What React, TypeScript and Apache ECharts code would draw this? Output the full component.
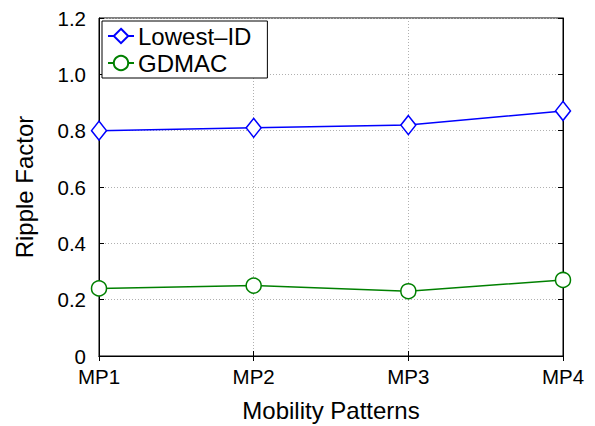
import React, { useEffect, useRef } from "react";
import * as echarts from "echarts";

const categories = ["MP1", "MP2", "MP3", "MP4"];
const lowestId = [0.8, 0.81, 0.82, 0.87];
const gdmac = [0.24, 0.25, 0.23, 0.27];
const yTicks = [0, 0.2, 0.4, 0.6, 0.8, 1.0, 1.2];

const FONT = "Liberation Sans, Arial, Helvetica, sans-serif";

export default function App() {
  const ref = useRef<HTMLDivElement>(null);
  useEffect(() => {
    if (!ref.current) return;
    const chart = echarts.init(ref.current, undefined, { renderer: "svg" });
    const grid = { left: 99, right: 32, top: 18, bottom: 70 };
    const split = { show: true, lineStyle: { color: "#b0b0b0", type: [1, 2] as any, width: 1 } };
    chart.setOption({
      animation: false,
      backgroundColor: "#fff",
      textStyle: { fontFamily: FONT },
      grid: {
        ...grid,
        show: true,
        borderColor: "#000",
        borderWidth: 1,
        backgroundColor: "transparent",
        containLabel: false,
        outerBoundsMode: "none",
      },
      legend: {
        orient: "vertical",
        left: 102,
        top: 21,
        padding: [3, 16, 3, 5],
        itemGap: 3,
        itemWidth: 26,
        itemHeight: 18,
        backgroundColor: "#fff",
        borderColor: "#000",
        borderWidth: 1,
        borderRadius: 0,
        textStyle: { fontSize: 24, color: "#000", fontFamily: FONT, padding: [0, 0, 0, -1] },
        data: ["Lowest\u2013ID", "GDMAC"],
      },
      xAxis: [
        {
          type: "category",
          data: categories,
          boundaryGap: false,
          axisLine: { show: true, lineStyle: { color: "#000", width: 1 } },
          axisTick: { show: true, inside: true, length: 5, lineStyle: { color: "#000" } },
          axisLabel: { fontSize: 20.5, color: "#000", margin: 10, fontFamily: FONT },
          splitLine: split,
          name: "Mobility Patterns",
          nameLocation: "middle",
          nameGap: 42,
          nameTextStyle: { fontSize: 24, color: "#000", fontFamily: FONT },
        },
        {
          type: "category",
          data: categories,
          boundaryGap: false,
          position: "top",
          axisLine: { show: true, lineStyle: { color: "#000", width: 1 } },
          axisTick: { show: true, inside: true, length: 5, lineStyle: { color: "#000" } },
          axisLabel: { show: false },
          splitLine: { show: false },
        },
      ],
      yAxis: [
        {
          type: "value",
          min: 0,
          max: 1.2,
          interval: 0.2,
          axisLine: { show: true, lineStyle: { color: "#000", width: 1 } },
          axisTick: { show: true, inside: true, length: 5, lineStyle: { color: "#000" } },
          axisLabel: {
            fontSize: 20.5,
            color: "#000",
            margin: 13,
            fontFamily: FONT,
            formatter: (v: number) => {
              const t = yTicks.find((x) => Math.abs(x - v) < 1e-9);
              const val = t !== undefined ? t : v;
              return val === 0 ? "0" : val.toFixed(1);
            },
          },
          splitLine: split,
          name: "Ripple Factor",
          nameLocation: "middle",
          nameGap: 63,
          nameTextStyle: { fontSize: 24, color: "#000", fontFamily: FONT },
        },
        {
          type: "value",
          min: 0,
          max: 1.2,
          interval: 0.2,
          position: "right",
          axisLine: { show: true, lineStyle: { color: "#000", width: 1 } },
          axisTick: { show: true, inside: true, length: 5, lineStyle: { color: "#000" } },
          axisLabel: { show: false },
          splitLine: { show: false },
        },
      ],
      series: [
        {
          name: "Lowest\u2013ID",
          type: "line",
          data: lowestId,
          symbol: "diamond",
          symbolSize: [15, 19],
          showAllSymbol: true,
          lineStyle: { color: "#0000ff", width: 1.5 },
          itemStyle: { color: "#ffffff", borderColor: "#0000ff", borderWidth: 1.5 },
          color: "#0000ff",
          clip: false,
          z: 3,
        },
        {
          name: "GDMAC",
          type: "line",
          data: gdmac,
          symbol: "circle",
          symbolSize: 15,
          showAllSymbol: true,
          lineStyle: { color: "#008000", width: 1.5 },
          itemStyle: { color: "#ffffff", borderColor: "#008000", borderWidth: 1.5 },
          color: "#008000",
          clip: false,
          z: 3,
        },
      ],
    });
    return () => chart.dispose();
  }, []);
  return <div ref={ref} style={{ width: 595, height: 426, position: "absolute", left: 0, top: 0 }} />;
}
